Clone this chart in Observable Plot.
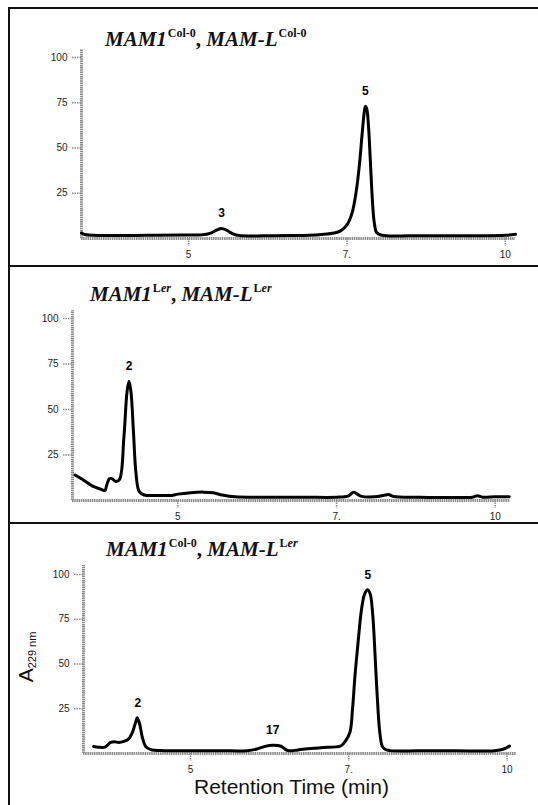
<!DOCTYPE html>
<html>
<head>
<meta charset="utf-8">
<script src="https://cdn.jsdelivr.net/npm/d3@7"></script>
<script src="https://cdn.jsdelivr.net/npm/@observablehq/plot@0.6"></script>
<style>
  html, body { margin: 0; padding: 0; background: #fff; }
  #fig { position: relative; width: 538px; height: 805px; overflow: hidden; background: #fff; }
  .hline { position: absolute; height: 2px; background: #111; }
  .vline { position: absolute; width: 2px; background: #111; }
  .plotwrap { position: absolute; left: 0; }
  .title { position: absolute; font-family: "Liberation Serif", "Times New Roman", serif; font-weight: bold; font-size: 21px; white-space: nowrap; color: #111; }
  .title i { font-style: italic; }
  .title sup { font-size: 12px; font-weight: bold; vertical-align: 0; position: relative; top: -9px; margin-left: 1px; }
  .title sup i { font-style: italic; }
  .xlabel { position: absolute; font-family: "Liberation Sans", Arial, sans-serif; font-size: 21px; color: #111; white-space: nowrap; }
  .ylabel { position: absolute; font-family: "Liberation Sans", Arial, sans-serif; font-size: 21px; color: #111; white-space: nowrap; transform: rotate(-90deg); transform-origin: center center; }
  .ylabel sub { font-size: 11px; vertical-align: 0; position: relative; top: 3px; }
</style>
</head>
<body>
<div id="fig">
  <div class="hline" style="left:8px; top:7px; width:530px;"></div>
  <div class="hline" style="left:8px; top:265px; width:530px;"></div>
  <div class="hline" style="left:8px; top:522px; width:530px;"></div>
  <div class="vline" style="left:8px; top:7px; height:798px;"></div>

  <div class="title" style="left:105px; top:27px;"><i>MAM1</i><sup>Col-0</sup>, <i>MAM-L</i><sup>Col-0</sup></div>
  <div class="title" style="left:90px; top:282px;"><i>MAM1</i><sup>L<i>er</i></sup>, <i>MAM-L</i><sup>L<i>er</i></sup></div>
  <div class="title" style="left:106px; top:537px;"><i>MAM1</i><sup>Col-0</sup>, <i>MAM-L</i><sup>L<i>er</i></sup></div>

  <div id="p1" class="plotwrap" style="top:0px;"></div>
  <div id="p2" class="plotwrap" style="top:266px;"></div>
  <div id="p3" class="plotwrap" style="top:523px;"></div>

  <div class="xlabel" style="left:194px; top:775px;">Retention Time (min)</div>
  <div class="ylabel" style="left:-14px; top:645px; width:80px; text-align:center;">A<sub>229 nm</sub></div>
</div>
<script>
// ---- shared axis data ----
const xTickValues = [5, 7.5, 10];
const xTickLabels = ["5", "7.", "10"];
const yTickValues = [25, 50, 75, 100];

// ---- panel 1: MAM1 Col-0, MAM-L Col-0 ----
const time1 = [3.31, 3.36, 3.5, 4.0, 4.5, 4.9, 5.2, 5.35, 5.45, 5.52, 5.6, 5.7, 5.8, 6.2, 6.6, 6.9, 7.1, 7.3, 7.4, 7.5, 7.58, 7.65, 7.7, 7.74, 7.77, 7.79, 7.81, 7.84, 7.87, 7.9, 7.93, 7.97, 8.05, 8.5, 9.0, 9.5, 10.0, 10.16];
const abs1  = [3.0, 2.2, 1.8, 1.6, 1.8, 2.0, 2.0, 3.0, 4.8, 5.5, 4.6, 2.6, 1.6, 1.5, 1.6, 1.8, 2.2, 3.0, 4.2, 7.5, 14, 27, 42, 58, 69, 73, 72, 62, 42, 22, 9, 3.2, 1.8, 1.5, 1.5, 1.5, 1.8, 2.3];
const peakNames1 = ["3", "5"];
const peakTimes1 = [5.52, 7.79];
const peakAbs1 = [5.5, 73];

// ---- panel 2: MAM1 Ler, MAM-L Ler ----
const time2 = [3.38, 3.5, 3.65, 3.8, 3.85, 3.88, 3.92, 3.96, 4.02, 4.08, 4.15, 4.2, 4.23, 4.26, 4.3, 4.34, 4.39, 4.47, 4.7, 4.9, 5.0, 5.2, 5.4, 5.56, 5.7, 5.9, 6.5, 7.0, 7.5, 7.68, 7.77, 7.88, 8.1, 8.27, 8.32, 8.4, 8.8, 9.4, 9.64, 9.72, 9.8, 10.0, 10.22];
const abs2  = [14, 11.5, 8, 6, 5.5, 8.5, 12, 12, 10.5, 11.5, 35, 60, 65.5, 60, 38, 15, 5, 3, 2.8, 2.8, 3.5, 4.3, 4.6, 4.2, 3, 2, 1.8, 1.8, 1.8, 2.4, 4.5, 2.4, 2, 3, 3.3, 2.2, 1.8, 1.6, 1.8, 2.6, 1.8, 2.0, 2.0];
const peakNames2 = ["2"];
const peakTimes2 = [4.23];
const peakAbs2 = [65.5];

// ---- panel 3: MAM1 Col-0, MAM-L Ler ----
const time3 = [3.47, 3.55, 3.65, 3.74, 3.8, 3.87, 3.95, 4.02, 4.08, 4.13, 4.16, 4.2, 4.24, 4.29, 4.37, 4.6, 5.0, 5.5, 5.9, 6.05, 6.18, 6.3, 6.42, 6.5, 6.56, 6.7, 6.9, 7.1, 7.3, 7.38, 7.45, 7.52, 7.56, 7.6, 7.65, 7.7, 7.75, 7.8, 7.84, 7.88, 7.92, 7.95, 7.99, 8.03, 8.08, 8.15, 8.6, 9.2, 9.8, 9.95, 10.04];
const abs3  = [3.9, 3.5, 3.6, 6.2, 6.5, 6.2, 6.8, 8, 11.5, 17, 20, 16, 9, 4, 2.2, 1.6, 1.5, 1.5, 1.6, 2.5, 4, 4.6, 4.2, 2.3, 1.5, 2, 2.8, 3.3, 3.7, 4.3, 7, 12, 25, 44, 63, 80, 89, 91.5, 89, 77, 52, 32, 12, 4, 2.2, 1.6, 1.5, 1.5, 1.6, 2.5, 4.2];
const peakNames3 = ["2", "17", "5"];
const peakTimes3 = [4.17, 6.3, 7.8];
const peakAbs3 = [20, 4.6, 91.5];

function panel(opts) {
  const {time, abs, names, ptimes, pabs, xDomain, yTop, height, mTop, mBottom, mLeft, mRight} = opts;
  const data = time.map((t, i) => ({t, a: abs[i]}));
  const labels = names.map((s, i) => ({s, t: ptimes[i], a: pabs[i]}));
  const axisColor = "#8a8a8a";
  return Plot.plot({
    width: 538,
    height,
    marginTop: mTop,
    marginBottom: mBottom,
    marginLeft: mLeft,
    marginRight: mRight,
    x: {domain: xDomain},
    y: {domain: [0, yTop]},
    style: {background: "transparent", fontFamily: "'Liberation Sans', Arial, sans-serif", overflow: "visible"},
    marks: [
      Plot.axisY(yTickValues, {tickSize: 9, tickPadding: 5, fontSize: 10, stroke: axisColor, strokeWidth: 1.5, strokeDasharray: "1.5,1", fill: "#222", label: null}),
      Plot.axisX(xTickValues, {tickSize: 8, tickPadding: 4, fontSize: 10, stroke: axisColor, strokeWidth: 1.5, strokeDasharray: "1.5,1", fill: "#222", label: null,
        tickFormat: (d) => xTickLabels[xTickValues.indexOf(d)]}),
      Plot.ruleX([xDomain[0]], {y1: 0, y2: yTop, stroke: axisColor, strokeWidth: 3, strokeDasharray: "1.5,0.7"}),
      Plot.ruleY([0], {x1: xDomain[0], x2: xDomain[1], stroke: axisColor, strokeWidth: 3, strokeDasharray: "1.5,0.7"}),
      Plot.line(data, {x: "t", y: "a", curve: "catmull-rom", stroke: "#000", strokeWidth: 3, strokeLinejoin: "round", strokeLinecap: "round"}),
      Plot.text(labels, {x: "t", y: "a", text: "s", dy: -15, fontSize: 12, fontWeight: "bold", fill: "#000"})
    ]
  });
}

document.getElementById("p1").appendChild(panel({
  time: time1, abs: abs1, names: peakNames1, ptimes: peakTimes1, pabs: peakAbs1,
  xDomain: [3.31, 10.16], yTop: 104.4, height: 266, mTop: 49, mBottom: 28, mLeft: 81, mRight: 23
}));
document.getElementById("p2").appendChild(panel({
  time: time2, abs: abs2, names: peakNames2, ptimes: peakTimes2, pabs: peakAbs2,
  xDomain: [3.34, 10.24], yTop: 104.4, height: 257, mTop: 44, mBottom: 23, mLeft: 72, mRight: 28
}));
document.getElementById("p3").appendChild(panel({
  time: time3, abs: abs3, names: peakNames3, ptimes: peakTimes3, pabs: peakAbs3,
  xDomain: [3.31, 10.15], yTop: 105, height: 282, mTop: 42, mBottom: 52, mLeft: 83, mRight: 22
}));
</script>
</body>
</html>
